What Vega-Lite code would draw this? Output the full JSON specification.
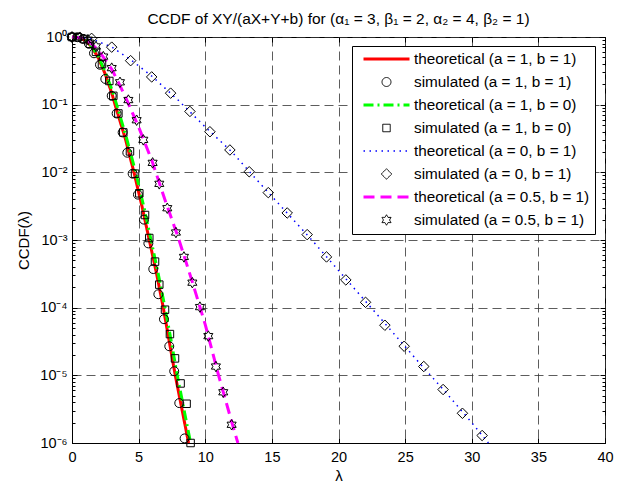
{
  "$schema": "https://vega.github.io/schema/vega-lite/v6.json",
  "width": 533,
  "height": 406,
  "autosize": {"type": "none"},
  "padding": {"left": 72, "top": 37, "right": 26, "bottom": 43},
  "title": {"text": "CCDF of XY/(aX+Y+b) for (α₁ = 3, β₁ = 2, α₂ = 4, β₂ = 1)", "fontSize": 15.5, "fontWeight": "normal", "font": "Liberation Sans", "color": "black", "anchor": "middle", "offset": 2},
  "datasets": {
    "theo": [
      {"s": "t1", "x": 0, "y": 1}, {"s": "t1", "x": 0.5, "y": 0.977}, {"s": "t1", "x": 1, "y": 0.891}, {"s": "t1", "x": 1.5, "y": 0.708},
      {"s": "t1", "x": 2, "y": 0.479}, {"s": "t1", "x": 2.5, "y": 0.282}, {"s": "t1", "x": 3, "y": 0.145}, {"s": "t1", "x": 3.23, "y": 0.1},
      {"s": "t1", "x": 4, "y": 0.0316}, {"s": "t1", "x": 4.65, "y": 0.01}, {"s": "t1", "x": 5.25, "y": 0.00316}, {"s": "t1", "x": 5.8, "y": 0.001},
      {"s": "t1", "x": 6.35, "y": 0.000316}, {"s": "t1", "x": 6.85, "y": 0.0001}, {"s": "t1", "x": 7.3, "y": 0.0000316}, {"s": "t1", "x": 7.75, "y": 0.00001},
      {"s": "t1", "x": 8.25, "y": 0.00000316}, {"s": "t1", "x": 8.75, "y": 0.000001},
      {"s": "t2", "x": 0, "y": 1}, {"s": "t2", "x": 0.5, "y": 0.989}, {"s": "t2", "x": 1, "y": 0.912}, {"s": "t2", "x": 1.5, "y": 0.724},
      {"s": "t2", "x": 2, "y": 0.501}, {"s": "t2", "x": 2.5, "y": 0.302}, {"s": "t2", "x": 3, "y": 0.166}, {"s": "t2", "x": 3.35, "y": 0.1},
      {"s": "t2", "x": 4.1, "y": 0.0316}, {"s": "t2", "x": 4.78, "y": 0.01}, {"s": "t2", "x": 5.38, "y": 0.00316}, {"s": "t2", "x": 5.93, "y": 0.001},
      {"s": "t2", "x": 6.47, "y": 0.000316}, {"s": "t2", "x": 6.98, "y": 0.0001}, {"s": "t2", "x": 7.45, "y": 0.0000316}, {"s": "t2", "x": 7.9, "y": 0.00001},
      {"s": "t2", "x": 8.4, "y": 0.00000316}, {"s": "t2", "x": 8.9, "y": 0.000001},
      {"s": "t3", "x": 0, "y": 1}, {"s": "t3", "x": 1.5, "y": 0.933}, {"s": "t3", "x": 3, "y": 0.708}, {"s": "t3", "x": 4.5, "y": 0.447},
      {"s": "t3", "x": 6, "y": 0.263}, {"s": "t3", "x": 8, "y": 0.115}, {"s": "t3", "x": 10, "y": 0.0468}, {"s": "t3", "x": 12, "y": 0.02},
      {"s": "t3", "x": 14, "y": 0.00724}, {"s": "t3", "x": 16, "y": 0.00269}, {"s": "t3", "x": 18, "y": 0.001}, {"s": "t3", "x": 20, "y": 0.000355},
      {"s": "t3", "x": 22, "y": 0.000126}, {"s": "t3", "x": 24, "y": 0.0000447}, {"s": "t3", "x": 26, "y": 0.0000158}, {"s": "t3", "x": 28, "y": 0.00000575},
      {"s": "t3", "x": 30, "y": 0.000002}, {"s": "t3", "x": 31.25, "y": 0.000001},
      {"s": "t4", "x": 0, "y": 1}, {"s": "t4", "x": 1, "y": 0.955}, {"s": "t4", "x": 2, "y": 0.631}, {"s": "t4", "x": 3, "y": 0.331},
      {"s": "t4", "x": 4, "y": 0.132}, {"s": "t4", "x": 5, "y": 0.0468}, {"s": "t4", "x": 6, "y": 0.0148}, {"s": "t4", "x": 7, "y": 0.0038},
      {"s": "t4", "x": 8, "y": 0.00105}, {"s": "t4", "x": 9, "y": 0.000251}, {"s": "t4", "x": 10, "y": 0.0000562}, {"s": "t4", "x": 11, "y": 0.00001},
      {"s": "t4", "x": 12, "y": 0.000002}, {"s": "t4", "x": 12.45, "y": 0.000001}
    ],
    "sim": [
      {"s": "s1", "x": 0, "y": 1}, {"s": "s1", "x": 0.42, "y": 0.993}, {"s": "s1", "x": 0.85, "y": 0.933}, {"s": "s1", "x": 1.27, "y": 0.794},
      {"s": "s1", "x": 1.65, "y": 0.575}, {"s": "s1", "x": 2.1, "y": 0.389}, {"s": "s1", "x": 2.5, "y": 0.24}, {"s": "s1", "x": 2.98, "y": 0.135},
      {"s": "s1", "x": 3.35, "y": 0.0741}, {"s": "s1", "x": 3.8, "y": 0.0389}, {"s": "s1", "x": 4.15, "y": 0.0195}, {"s": "s1", "x": 4.55, "y": 0.00955},
      {"s": "s1", "x": 4.95, "y": 0.00468}, {"s": "s1", "x": 5.4, "y": 0.002}, {"s": "s1", "x": 5.73, "y": 0.000891}, {"s": "s1", "x": 6.1, "y": 0.000372},
      {"s": "s1", "x": 6.48, "y": 0.000158}, {"s": "s1", "x": 6.9, "y": 0.0000676}, {"s": "s1", "x": 7.3, "y": 0.0000269}, {"s": "s1", "x": 7.67, "y": 0.0000115},
      {"s": "s1", "x": 8.05, "y": 0.00000389}, {"s": "s1", "x": 8.45, "y": 0.00000117},
      {"s": "s2", "x": 0, "y": 1}, {"s": "s2", "x": 0.45, "y": 0.991}, {"s": "s2", "x": 0.9, "y": 0.933}, {"s": "s2", "x": 1.35, "y": 0.794},
      {"s": "s2", "x": 1.8, "y": 0.603}, {"s": "s2", "x": 2.25, "y": 0.398}, {"s": "s2", "x": 2.8, "y": 0.224}, {"s": "s2", "x": 3.1, "y": 0.135},
      {"s": "s2", "x": 3.48, "y": 0.0741}, {"s": "s2", "x": 3.85, "y": 0.0389}, {"s": "s2", "x": 4.35, "y": 0.0204}, {"s": "s2", "x": 4.73, "y": 0.00955},
      {"s": "s2", "x": 5.05, "y": 0.0049}, {"s": "s2", "x": 5.48, "y": 0.00234}, {"s": "s2", "x": 5.8, "y": 0.00107}, {"s": "s2", "x": 6.23, "y": 0.000479},
      {"s": "s2", "x": 6.55, "y": 0.000219}, {"s": "s2", "x": 6.98, "y": 0.0000933}, {"s": "s2", "x": 7.35, "y": 0.0000407}, {"s": "s2", "x": 7.73, "y": 0.0000178},
      {"s": "s2", "x": 8.15, "y": 0.00000759}, {"s": "s2", "x": 8.6, "y": 0.0000038}, {"s": "s2", "x": 8.9, "y": 0.000001},
      {"s": "s3", "x": 0, "y": 1}, {"s": "s3", "x": 1.47, "y": 0.955}, {"s": "s3", "x": 2.98, "y": 0.708}, {"s": "s3", "x": 4.4, "y": 0.447},
      {"s": "s3", "x": 5.98, "y": 0.257}, {"s": "s3", "x": 7.4, "y": 0.148}, {"s": "s3", "x": 8.85, "y": 0.0794}, {"s": "s3", "x": 10.35, "y": 0.0398},
      {"s": "s3", "x": 11.85, "y": 0.0214}, {"s": "s3", "x": 13.3, "y": 0.0102}, {"s": "s3", "x": 14.73, "y": 0.00501}, {"s": "s3", "x": 16.15, "y": 0.00251},
      {"s": "s3", "x": 17.65, "y": 0.0012}, {"s": "s3", "x": 19.1, "y": 0.000562}, {"s": "s3", "x": 20.55, "y": 0.000257}, {"s": "s3", "x": 22.03, "y": 0.00012},
      {"s": "s3", "x": 23.48, "y": 0.000055}, {"s": "s3", "x": 24.93, "y": 0.0000269}, {"s": "s3", "x": 26.4, "y": 0.0000135}, {"s": "s3", "x": 27.85, "y": 0.00000617},
      {"s": "s3", "x": 29.3, "y": 0.00000275}, {"s": "s3", "x": 30.78, "y": 0.00000129},
      {"s": "s4", "x": 0, "y": 1}, {"s": "s4", "x": 0.6, "y": 0.993}, {"s": "s4", "x": 1.2, "y": 0.912}, {"s": "s4", "x": 1.8, "y": 0.724},
      {"s": "s4", "x": 2.35, "y": 0.513}, {"s": "s4", "x": 2.98, "y": 0.347}, {"s": "s4", "x": 3.6, "y": 0.214}, {"s": "s4", "x": 4.23, "y": 0.117},
      {"s": "s4", "x": 4.85, "y": 0.0589}, {"s": "s4", "x": 5.35, "y": 0.0302}, {"s": "s4", "x": 6.05, "y": 0.0138}, {"s": "s4", "x": 6.55, "y": 0.00676},
      {"s": "s4", "x": 7.15, "y": 0.00295}, {"s": "s4", "x": 7.8, "y": 0.00129}, {"s": "s4", "x": 8.4, "y": 0.000562}, {"s": "s4", "x": 9.03, "y": 0.000234},
      {"s": "s4", "x": 9.6, "y": 0.000102}, {"s": "s4", "x": 10.23, "y": 0.000038}, {"s": "s4", "x": 10.8, "y": 0.0000135}, {"s": "s4", "x": 11.35, "y": 0.00000562},
      {"s": "s4", "x": 11.98, "y": 0.00000186}
    ]
  },
  "layer": [
    {
      "data": {"name": "theo"},
      "mark": {"type": "line", "clip": false},
      "encoding": {
        "x": {"field": "x", "type": "quantitative", "scale": {"domain": [0, 40], "nice": false, "zero": false},
          "axis": {"orient": "bottom", "values": [0, 5, 10, 15, 20, 25, 30, 35, 40], "grid": true, "tickSize": -5, "labelPadding": 12, "title": "λ", "titleY": 25, "labelFlush": false}},
        "y": {"field": "y", "type": "quantitative", "scale": {"type": "log", "domain": [0.000001, 1], "nice": false},
          "axis": {"orient": "left", "values": [0.000001, 0.00001, 0.0001, 0.001, 0.01, 0.1, 1], "grid": true, "tickSize": -5, "labelPadding": 10, "title": "CCDF(λ)", "titleX": -41,
            "labelExpr": "datum.value > 0.5 ? '10⁰' : datum.value > 0.05 ? '10⁻¹' : datum.value > 0.005 ? '10⁻²' : datum.value > 0.0005 ? '10⁻³' : datum.value > 0.00005 ? '10⁻⁴' : datum.value > 0.000005 ? '10⁻⁵' : '10⁻⁶'"}},
        "color": {"field": "s", "type": "nominal", "title": null,
          "scale": {"domain": ["t1", "s1", "t2", "s2", "t3", "s3", "t4", "s4"], "range": ["#ff0000", "#000000", "#00ff00", "#000000", "#0000ff", "#000000", "#ff00ff", "#000000"]},
          "legend": {"title": null, "orient": "none", "legendX": 280, "legendY": 9, "labelFontSize": 15.3, "labelFont": "Liberation Sans", "labelColor": "black", "strokeColor": "black", "fillColor": "white", "padding": 5, "rowPadding": 6, "clipHeight": 16, "symbolOffset": 5, "labelOffset": 3, "labelLimit": 400, "cornerRadius": 0,
            "labelExpr": "datum.label == 't1' ? 'theoretical (a = 1, b = 1)' : datum.label == 's1' ? 'simulated (a = 1, b = 1)' : datum.label == 't2' ? 'theoretical (a = 1, b = 0)' : datum.label == 's2' ? 'simulated (a = 1, b = 0)' : datum.label == 't3' ? 'theoretical (a = 0, b = 1)' : datum.label == 's3' ? 'simulated (a = 0, b = 1)' : datum.label == 't4' ? 'theoretical (a = 0.5, b = 1)' : 'simulated (a = 0.5, b = 1)'"}},
        "strokeDash": {"field": "s", "type": "nominal", "title": null,
          "scale": {"domain": ["t1", "s1", "t2", "s2", "t3", "s3", "t4", "s4"], "range": [[1, 0], [1, 0], [10, 4, 2, 4], [1, 0], [1.5, 4.5], [1, 0], [11, 6], [1, 0]]}},
        "strokeWidth": {"field": "s", "type": "nominal", "title": null,
          "scale": {"type": "ordinal", "domain": ["t1", "s1", "t2", "s2", "t3", "s3", "t4", "s4"], "range": [3, 1, 3, 1, 1.5, 1, 3, 1]}}
      }
    },
    {
      "data": {"name": "sim"},
      "mark": {"type": "point", "filled": false, "opacity": 1, "strokeWidth": 1, "clip": false},
      "encoding": {
        "x": {"field": "x", "type": "quantitative", "axis": {"orient": "top", "values": [0, 5, 10, 15, 20, 25, 30, 35, 40], "labels": false, "grid": false, "domain": false, "tickSize": -5, "title": null}},
        "y": {"field": "y", "type": "quantitative", "axis": {"orient": "right", "values": [0.000001, 0.00001, 0.0001, 0.001, 0.01, 0.1, 1], "labels": false, "grid": false, "domain": false, "tickSize": -5, "title": null}},
        "color": {"field": "s", "type": "nominal", "title": null,
          "scale": {"domain": ["t1", "s1", "t2", "s2", "t3", "s3", "t4", "s4"], "range": ["#ff0000", "#000000", "#00ff00", "#000000", "#0000ff", "#000000", "#ff00ff", "#000000"]}},
        "shape": {"field": "s", "type": "nominal", "title": null,
          "scale": {"domain": ["t1", "s1", "t2", "s2", "t3", "s3", "t4", "s4"], "range": ["stroke", "circle", "stroke", "square", "stroke", "diamond", "stroke", "M0,-1L0.289,-0.5L0.866,-0.5L0.577,0L0.866,0.5L0.289,0.5L0,1L-0.289,0.5L-0.866,0.5L-0.577,0L-0.866,-0.5L-0.289,-0.5Z"]}},
        "size": {"field": "s", "type": "nominal", "title": null,
          "scale": {"type": "ordinal", "domain": ["t1", "s1", "t2", "s2", "t3", "s3", "t4", "s4"], "range": [2116, 80, 2116, 56, 2116, 110, 2116, 110]}}
      }
    },
    {
      "data": {"name": "sim"},
      "mark": {"type": "point", "opacity": 0},
      "encoding": {
        "x": {"field": "x", "type": "quantitative", "axis": null},
        "y": {"field": "y", "type": "quantitative", "axis": {"orient": "left", "labels": false, "grid": false, "domain": false, "tickSize": -3, "title": null,
          "values": [0.000002, 0.000003, 0.000004, 0.000005, 0.000006, 0.000007, 0.000008, 0.000009, 0.00002, 0.00003, 0.00004, 0.00005, 0.00006, 0.00007, 0.00008, 0.00009, 0.0002, 0.0003, 0.0004, 0.0005, 0.0006, 0.0007, 0.0008, 0.0009, 0.002, 0.003, 0.004, 0.005, 0.006, 0.007, 0.008, 0.009, 0.02, 0.03, 0.04, 0.05, 0.06, 0.07, 0.08, 0.09, 0.2, 0.3, 0.4, 0.5, 0.6, 0.7, 0.8, 0.9]}}
      }
    },
    {
      "data": {"name": "sim"},
      "mark": {"type": "point", "opacity": 0},
      "encoding": {
        "x": {"field": "x", "type": "quantitative", "axis": null},
        "y": {"field": "y", "type": "quantitative", "axis": {"orient": "right", "labels": false, "grid": false, "domain": false, "tickSize": -3, "title": null,
          "values": [0.000002, 0.000003, 0.000004, 0.000005, 0.000006, 0.000007, 0.000008, 0.000009, 0.00002, 0.00003, 0.00004, 0.00005, 0.00006, 0.00007, 0.00008, 0.00009, 0.0002, 0.0003, 0.0004, 0.0005, 0.0006, 0.0007, 0.0008, 0.0009, 0.002, 0.003, 0.004, 0.005, 0.006, 0.007, 0.008, 0.009, 0.02, 0.03, 0.04, 0.05, 0.06, 0.07, 0.08, 0.09, 0.2, 0.3, 0.4, 0.5, 0.6, 0.7, 0.8, 0.9]}}
      }
    }
  ],
  "resolve": {"axis": {"x": "independent", "y": "independent"}},
  "config": {
    "font": "Liberation Sans",
    "view": {"stroke": "black", "strokeWidth": 1},
    "axis": {"labelFontSize": 14.5, "labelColor": "black", "titleFontSize": 15, "titleFontWeight": "normal", "titleColor": "black", "domainColor": "black", "tickColor": "black", "gridColor": "#333333", "gridDash": [9, 5], "gridWidth": 0.8, "gridOpacity": 1}
  }
}
